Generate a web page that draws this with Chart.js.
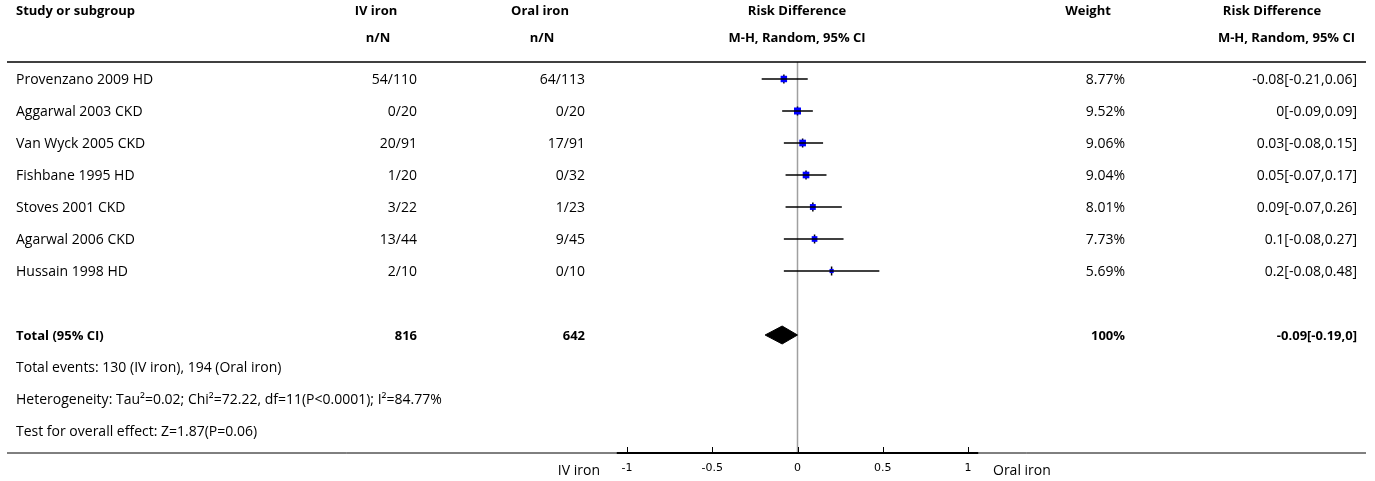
<!DOCTYPE html>
<html><head><meta charset="utf-8">
<script src="https://cdn.jsdelivr.net/npm/chart.js@4/dist/chart.umd.min.js"></script>
<style>html,body{margin:0;padding:0;background:#fff;}#wrap{width:1375px;height:481px;position:relative}</style>
</head><body><div id="wrap"><canvas id="c" width="1375" height="481"></canvas></div>
<script>
const studies = ["Provenzano 2009 HD","Aggarwal 2003 CKD","Van Wyck 2005 CKD","Fishbane 1995 HD","Stoves 2001 CKD","Agarwal 2006 CKD","Hussain 1998 HD"];
const ivEvents = ["54/110","0/20","20/91","1/20","3/22","13/44","2/10"];
const oralEvents = ["64/113","0/20","17/91","0/32","1/23","9/45","0/10"];
const rd = [-0.08,0,0.03,0.05,0.09,0.1,0.2];
const ciLow = [-0.21,-0.09,-0.08,-0.07,-0.07,-0.08,-0.08];
const ciHigh = [0.06,0.09,0.15,0.17,0.26,0.27,0.48];
const weights = [8.77,9.52,9.06,9.04,8.01,7.73,5.69];
const totalLabel = "Total (95% CI)";
const totalIV = 816, totalOral = 642;
const totalRD = -0.09, totalLow = -0.19, totalHigh = 0, totalWeight = 100;
const footnotes = ["Total events: 130 (IV iron), 194 (Oral iron)",
  "Heterogeneity: Tau\u00B2=0.02; Chi\u00B2=72.22, df=11(P<0.0001); I\u00B2=84.77%",
  "Test for overall effect: Z=1.87(P=0.06)"];
const xTicks = [-1,-0.5,0,0.5,1];
const leftLabel = "IV iron", rightLabel = "Oral iron";

const FONT = "'Open Sans'";
const totalRow = studies.length + 1;

const datasets = [];
studies.forEach((s,i)=>{
  datasets.push({type:'line', data:[{x:ciLow[i],y:i},{x:ciHigh[i],y:i}], borderColor:'#000', borderWidth:1.5, pointRadius:0, showLine:true, fill:false});
});
datasets.push({type:'scatter', data: rd.map((v,i)=>({x:v,y:i})), pointStyle:'rect',
  pointRadius: weights.map(w=>w*0.52), backgroundColor:'#0000ff', borderColor:'#0000ff', borderWidth:0});
datasets.push({type:'scatter', data: rd.map((v,i)=>({x:v,y:i})), pointStyle:'line', rotation:90,
  pointRadius:4.5, borderColor:'#000', borderWidth:1.5});
datasets.push({type:'line', data:[{x:totalLow,y:totalRow},{x:totalRD,y:totalRow-0.28},{x:totalHigh,y:totalRow},{x:totalRD,y:totalRow+0.28},{x:totalLow,y:totalRow}],
  borderColor:'#000', borderWidth:1, backgroundColor:'#000', fill:'shape', pointRadius:0, showLine:true, tension:0});

const fmt = v => String(v);

const tablePlugin = {
  id:'table',
  beforeDatasetsDraw(chart){
    const ctx = chart.ctx, xs = chart.scales.x, ca = chart.chartArea;
    ctx.save();
    ctx.strokeStyle = '#a0a0a0'; ctx.lineWidth = 1.5;
    const x0 = xs.getPixelForValue(0);
    ctx.beginPath(); ctx.moveTo(x0, ca.top); ctx.lineTo(x0, ca.bottom); ctx.stroke();
    ctx.restore();
  },
  afterDraw(chart){
    const ctx = chart.ctx, xs = chart.scales.x, ys = chart.scales.y, ca = chart.chartArea;
    ctx.save();
    ctx.strokeStyle = '#000'; ctx.lineWidth = 1.5;
    ctx.beginPath(); ctx.moveTo(7, ca.top); ctx.lineTo(1366, ca.top); ctx.stroke();
    ctx.lineWidth = 1;
    ctx.beginPath(); ctx.moveTo(7, ca.bottom); ctx.lineTo(1366, ca.bottom); ctx.stroke();
    ctx.lineWidth = 2;
    ctx.beginPath(); ctx.moveTo(xs.getPixelForValue(-1.06), ca.bottom); ctx.lineTo(xs.getPixelForValue(1.06), ca.bottom); ctx.stroke();
    ctx.lineWidth = 1;
    xTicks.forEach(t=>{ const px = Math.round(xs.getPixelForValue(t))+0.5; ctx.beginPath(); ctx.moveTo(px, ca.bottom-6); ctx.lineTo(px, ca.bottom); ctx.stroke(); });

    const txt = (s, x, y, align, bold) => {
      ctx.font = bold ? ('bold 13px ' + FONT) : ('14px ' + FONT);
      ctx.textAlign = align; ctx.textBaseline = 'middle'; ctx.fillStyle = '#000';
      ctx.fillText(s, x, y);
    };
    const h1 = 11, h2 = 38;
    txt("Study or subgroup", 16, h1, 'left', true);
    txt("IV iron", 376, h1, 'center', true); txt("n/N", 378, h2, 'center', true);
    txt("Oral iron", 540, h1, 'center', true); txt("n/N", 542, h2, 'center', true);
    txt("Risk Difference", 797, h1, 'center', true); txt("M-H, Random, 95% CI", 797, h2, 'center', true);
    txt("Weight", 1088, h1, 'center', true);
    txt("Risk Difference", 1272, h1, 'center', true); txt("M-H, Random, 95% CI", 1355, h2, 'right', true);

    studies.forEach((s,i)=>{
      const y = ys.getPixelForValue(i) + 1;
      txt(s, 16, y, 'left', false);
      txt(ivEvents[i], 417, y, 'right', false);
      txt(oralEvents[i], 585, y, 'right', false);
      txt(fmt(weights[i]) + '%', 1125, y, 'right', false);
      txt(fmt(rd[i]) + '[' + fmt(ciLow[i]) + ',' + fmt(ciHigh[i]) + ']', 1357, y, 'right', false);
    });
    const yt = ys.getPixelForValue(totalRow) + 1;
    txt(totalLabel, 16, yt, 'left', true);
    txt(String(totalIV), 417, yt, 'right', true);
    txt(String(totalOral), 585, yt, 'right', true);
    txt(fmt(totalWeight) + '%', 1125, yt, 'right', true);
    txt(fmt(totalRD) + '[' + fmt(totalLow) + ',' + fmt(totalHigh) + ']', 1357, yt, 'right', true);
    footnotes.forEach((f,j)=>{
      txt(f, 16, ys.getPixelForValue(totalRow + 1 + j) + 1, 'left', false);
    });
    txt(leftLabel, 600, 471, 'right', false);
    txt(rightLabel, 993, 471, 'left', false);
    ctx.restore();
  }
};

new Chart(document.getElementById('c'), {
  type:'scatter',
  data:{datasets},
  options:{
    responsive:false, animation:false, devicePixelRatio:1, events:[],
    layout:{padding:{left:627, right:407, top:62, bottom:0}},
    plugins:{legend:{display:false}, tooltip:{enabled:false}},
    scales:{
      x:{type:'linear', min:-1, max:1,
        afterBuildTicks: s => { s.ticks = xTicks.map(v=>({value:v})); },
        afterFit: s => { s.height = 28; },
        grid:{display:false, drawTicks:false}, border:{display:false},
        ticks:{padding:9, color:'#000', font:{family:'DejaVu Sans', size:11}, maxRotation:0, autoSkip:false,
          callback: v => String(v)}},
      y:{type:'linear', reverse:true, min:-0.53125, max:11.6875, display:false}
    }
  },
  plugins:[tablePlugin]
});
</script></body></html>
